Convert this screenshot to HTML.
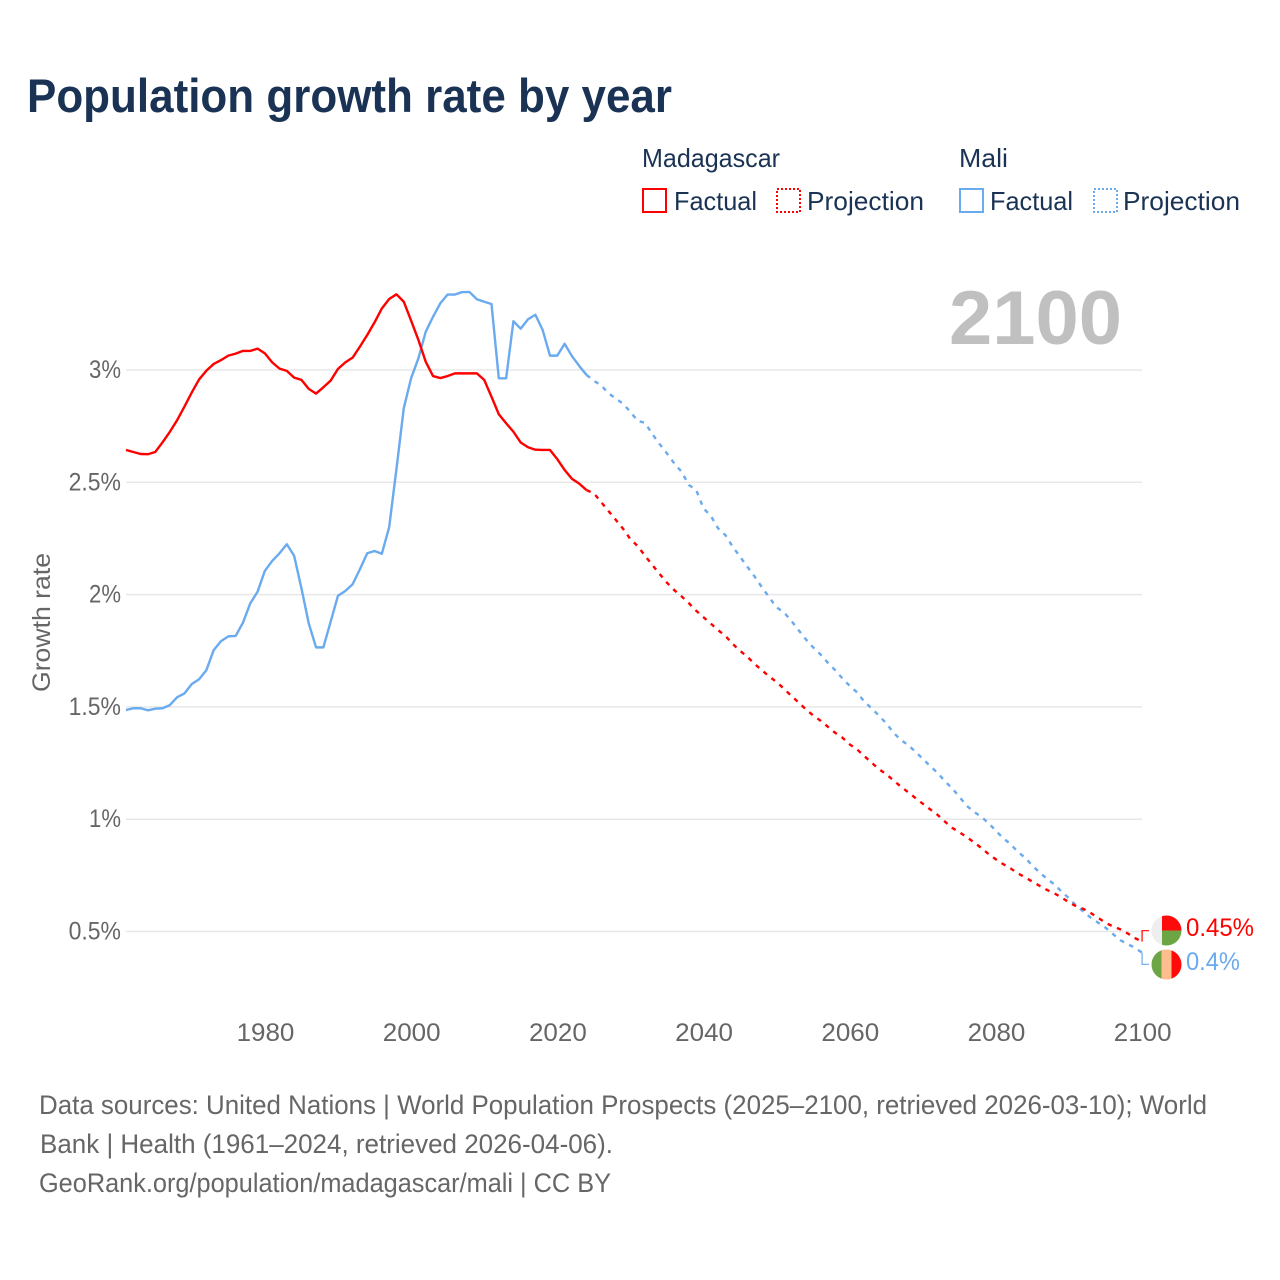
<!DOCTYPE html>
<html lang="en">
<head>
<meta charset="utf-8">
<title>Population growth rate by year</title>
<style>
html,body{margin:0;padding:0;background:#fff;}
svg{display:block;}
text{font-family:"Liberation Sans",sans-serif;}
</style>
</head>
<body>
<svg id="chart" width="1280" height="1280" viewBox="0 0 1280 1280" xmlns="http://www.w3.org/2000/svg">
  <rect x="0" y="0" width="1280" height="1280" fill="#fff"/>
  <text x="27" y="112" font-size="47" font-weight="700" fill="#1a3354" textLength="645" lengthAdjust="spacingAndGlyphs">Population growth rate by year</text>

  <g font-size="26" fill="#1a3354">
    <text x="642" y="167" textLength="138" lengthAdjust="spacingAndGlyphs">Madagascar</text>
    <rect x="643" y="189" width="23" height="23" fill="none" stroke="#ff0000" stroke-width="2"/>
    <text x="674" y="210" textLength="83" lengthAdjust="spacingAndGlyphs">Factual</text>
    <rect x="777" y="189" width="23" height="23" fill="none" stroke="#ff0000" stroke-width="2" stroke-dasharray="2 2"/>
    <text x="807" y="210" textLength="117" lengthAdjust="spacingAndGlyphs">Projection</text>
    <text x="959" y="167" textLength="49" lengthAdjust="spacingAndGlyphs">Mali</text>
    <rect x="960" y="189" width="23" height="23" fill="none" stroke="#6aaaee" stroke-width="2"/>
    <text x="990" y="210" textLength="83" lengthAdjust="spacingAndGlyphs">Factual</text>
    <rect x="1094" y="189" width="23" height="23" fill="none" stroke="#6aaaee" stroke-width="2" stroke-dasharray="2 2"/>
    <text x="1123" y="210" textLength="117" lengthAdjust="spacingAndGlyphs">Projection</text>
  </g>

  <g id="grid"></g>
  <text x="949" y="344" font-size="76" font-weight="700" fill="#c0c0c0" textLength="173" lengthAdjust="spacingAndGlyphs">2100</text>
  <g id="yticks" font-size="25" fill="#666"></g>
  <g id="xticks" font-size="25" fill="#666"></g>
  <text transform="translate(50,692) rotate(-90)" font-size="25" fill="#666" textLength="139" lengthAdjust="spacingAndGlyphs">Growth rate</text>
  <g id="series" fill="none" stroke-width="2.4" stroke-linejoin="round"></g>

  <defs>
    <clipPath id="clip-mad"><circle cx="1166.5" cy="930.5" r="15"/></clipPath>
    <clipPath id="clip-mali"><circle cx="1166.5" cy="964.5" r="15"/></clipPath>
  </defs>
  <g clip-path="url(#clip-mad)">
    <rect x="1151" y="915" width="11" height="31" fill="#eeeeee"/>
    <rect x="1162" y="915" width="20" height="15.5" fill="#ff0a0a"/>
    <rect x="1162" y="930.5" width="20" height="16" fill="#6da544"/>
  </g>
  <g clip-path="url(#clip-mali)">
    <rect x="1151" y="949" width="11" height="31" fill="#6da544"/>
    <rect x="1161.5" y="949" width="10" height="31" fill="#ffbc8c"/>
    <rect x="1171.5" y="949" width="11" height="31" fill="#ff0a0a"/>
  </g>
  <g id="endlabels" font-size="25"></g>

  <g font-size="27" fill="#666">
    <text x="39" y="1114" textLength="1168" lengthAdjust="spacingAndGlyphs">Data sources: United Nations | World Population Prospects (2025–2100, retrieved 2026-03-10); World</text>
    <text x="40" y="1153" textLength="573" lengthAdjust="spacingAndGlyphs">Bank | Health (1961–2024, retrieved 2026-04-06).</text>
    <text x="39" y="1192" textLength="572" lengthAdjust="spacingAndGlyphs">GeoRank.org/population/madagascar/mali | CC BY</text>
  </g>
</svg>
<script>
const firstYear = 1961;
const projectionFirstYear = 2024;
const yTickValues = [0.5, 1, 1.5, 2, 2.5, 3];
const yTickLabels = ["0.5%", "1%", "1.5%", "2%", "2.5%", "3%"];
const xTickValues = [1980, 2000, 2020, 2040, 2060, 2080, 2100];
const xTickLabels = ["1980", "2000", "2020", "2040", "2060", "2080", "2100"];

const madagascarFactual = [
  2.644,2.635,2.626,2.625,2.635,2.678,2.725,2.777,2.837,2.90,
  2.958,2.997,3.027,3.044,3.064,3.073,3.085,3.085,3.095,3.074,
  3.034,3.006,2.996,2.966,2.956,2.916,2.895,2.923,2.953,3.005,
  3.034,3.055,3.104,3.156,3.212,3.274,3.316,3.337,3.304,3.22,
  3.134,3.037,2.973,2.964,2.973,2.985,2.985,2.985,2.985,2.956,
  2.881,2.803,2.763,2.725,2.677,2.656,2.645,2.644,2.644,2.603,
  2.555,2.516,2.494,2.465
];
const maliFactual = [
  1.486,1.494,1.494,1.485,1.492,1.494,1.508,1.543,1.56,1.602,
  1.623,1.664,1.753,1.793,1.814,1.816,1.875,1.961,2.013,2.106,
  2.15,2.184,2.224,2.173,2.028,1.872,1.765,1.765,1.88,1.995,
  2.016,2.046,2.113,2.184,2.194,2.182,2.30,2.56,2.83,2.963,
  3.052,3.17,3.237,3.297,3.336,3.336,3.347,3.347,3.315,3.304,
  3.294,2.963,2.963,3.217,3.184,3.226,3.246,3.178,3.064,3.064,
  3.117,3.062,3.018,2.978
];
const madagascarProjection = [
  2.465,2.451,2.412,2.372,2.333,2.293,2.247,2.216,2.173,2.132,2.092,
  2.053,2.02,1.992,1.962,1.928,1.899,1.871,1.842,1.816,1.78,
  1.75,1.723,1.691,1.663,1.635,1.611,1.581,1.55,1.52,1.489,
  1.462,1.439,1.412,1.385,1.363,1.333,1.311,1.281,1.252,1.223,
  1.20,1.173,1.145,1.12,1.094,1.069,1.044,1.02,0.99,0.962,
  0.942,0.921,0.897,0.872,0.845,0.821,0.80,0.781,0.759,0.741,
  0.722,0.703,0.685,0.67,0.651,0.63,0.612,0.60,0.582,0.561,
  0.539,0.523,0.51,0.492,0.471,0.455
];
const maliProjection = [
  2.978,2.952,2.932,2.896,2.874,2.849,2.814,2.773,2.765,2.715,2.67,
  2.629,2.584,2.547,2.488,2.466,2.384,2.351,2.295,2.265,2.213,
  2.169,2.124,2.08,2.032,1.988,1.943,1.921,1.884,1.842,1.801,
  1.765,1.734,1.697,1.664,1.627,1.594,1.565,1.523,1.494,1.461,
  1.427,1.385,1.353,1.33,1.30,1.269,1.237,1.207,1.17,1.138,
  1.10,1.06,1.033,1.011,0.982,0.949,0.915,0.89,0.854,0.829,
  0.793,0.762,0.734,0.71,0.677,0.648,0.615,0.588,0.561,0.539,
  0.517,0.489,0.462,0.444,0.428,0.406
];
const endLabels = ["0.45%", "0.4%"];

const NS = "http://www.w3.org/2000/svg";
const xScale = function (year) { return 126 + (year - 1961) * 7.31; };
const yScale = function (value) { return 931.5 - (value - 0.5) * 224.6; };
const labelWidth = function (s) {
  let w = 0;
  for (const c of s) { w += c === "." ? 6 : c === "%" ? 17.5 : 14.45; }
  return w;
};
const linePath = function (values, startYear) {
  return values.map(function (v, i) {
    return (i ? "L" : "M") + xScale(startYear + i).toFixed(2) + " " + yScale(v).toFixed(2);
  }).join(" ");
};

const gridGroup = document.getElementById("grid");
const yGroup = document.getElementById("yticks");
yTickValues.forEach(function (v, i) {
  const line = document.createElementNS(NS, "line");
  
  
  line.setAttribute("x1", 126);
  line.setAttribute("x2", 1142);
  line.setAttribute("y1", yScale(v));
  line.setAttribute("y2", yScale(v));
  line.setAttribute("stroke", "#e8e8e8");
  line.setAttribute("stroke-width", "1.5");
  gridGroup.appendChild(line);

  const t = document.createElementNS(NS, "text");
  
  
  const w = labelWidth(yTickLabels[i]);
  t.setAttribute("x", 121 - w);
  t.setAttribute("y", yScale(v) + 8);
  t.setAttribute("textLength", w);
  t.setAttribute("lengthAdjust", "spacingAndGlyphs");
  t.textContent = yTickLabels[i];
  yGroup.appendChild(t);
});

const xGroup = document.getElementById("xticks");
xTickValues.forEach(function (year, i) {
  const t = document.createElementNS(NS, "text");
  
  
  const w = labelWidth(xTickLabels[i]);
  t.setAttribute("x", xScale(year) - w / 2 + 0.6);
  t.setAttribute("y", 1041);
  t.setAttribute("textLength", w);
  t.setAttribute("lengthAdjust", "spacingAndGlyphs");
  t.textContent = xTickLabels[i];
  xGroup.appendChild(t);
});

const seriesGroup = document.getElementById("series");

const maliFactualLine = document.createElementNS(NS, "path");


maliFactualLine.setAttribute("d", linePath(maliFactual, firstYear));
maliFactualLine.setAttribute("stroke", "#6aaaee");
seriesGroup.appendChild(maliFactualLine);

const madFactualLine = document.createElementNS(NS, "path");


madFactualLine.setAttribute("d", linePath(madagascarFactual, firstYear));
madFactualLine.setAttribute("stroke", "#ff0000");
seriesGroup.appendChild(madFactualLine);

const maliProjectionLine = document.createElementNS(NS, "path");


maliProjectionLine.setAttribute("d", linePath(maliProjection, projectionFirstYear));
maliProjectionLine.setAttribute("stroke", "#6aaaee");
maliProjectionLine.setAttribute("stroke-dasharray", "4.5 5.7");
seriesGroup.appendChild(maliProjectionLine);

const madProjectionLine = document.createElementNS(NS, "path");


madProjectionLine.setAttribute("d", linePath(madagascarProjection, projectionFirstYear));
madProjectionLine.setAttribute("stroke", "#ff0000");
madProjectionLine.setAttribute("stroke-dasharray", "4.5 5.7");
seriesGroup.appendChild(madProjectionLine);

const endGroup = document.getElementById("endlabels");
const madLast = madagascarProjection[madagascarProjection.length - 1];
const maliLast = maliProjection[maliProjection.length - 1];

const madConnector = document.createElementNS(NS, "path");


madConnector.setAttribute("d", "M" + xScale(2100) + " " + yScale(madLast) + " V930.7 H1149");
madConnector.setAttribute("fill", "none");
madConnector.setAttribute("stroke", "#ff0000");
madConnector.setAttribute("stroke-width", "1.2");
endGroup.appendChild(madConnector);

const maliConnector = document.createElementNS(NS, "path");


maliConnector.setAttribute("d", "M" + xScale(2100) + " " + yScale(maliLast) + " V964.3 H1149");
maliConnector.setAttribute("fill", "none");
maliConnector.setAttribute("stroke", "#6aaaee");
maliConnector.setAttribute("stroke-width", "1.2");
endGroup.appendChild(maliConnector);

const madEnd = document.createElementNS(NS, "text");


madEnd.setAttribute("x", 1186);
madEnd.setAttribute("y", 936);
madEnd.setAttribute("fill", "#ff0000");
madEnd.setAttribute("textLength", 68);
madEnd.setAttribute("lengthAdjust", "spacingAndGlyphs");
madEnd.textContent = endLabels[0];
endGroup.appendChild(madEnd);

const maliEnd = document.createElementNS(NS, "text");


maliEnd.setAttribute("x", 1186);
maliEnd.setAttribute("y", 970);
maliEnd.setAttribute("fill", "#6aaaee");
maliEnd.setAttribute("textLength", 54);
maliEnd.setAttribute("lengthAdjust", "spacingAndGlyphs");
maliEnd.textContent = endLabels[1];
endGroup.appendChild(maliEnd);
</script>
</body>
</html>
